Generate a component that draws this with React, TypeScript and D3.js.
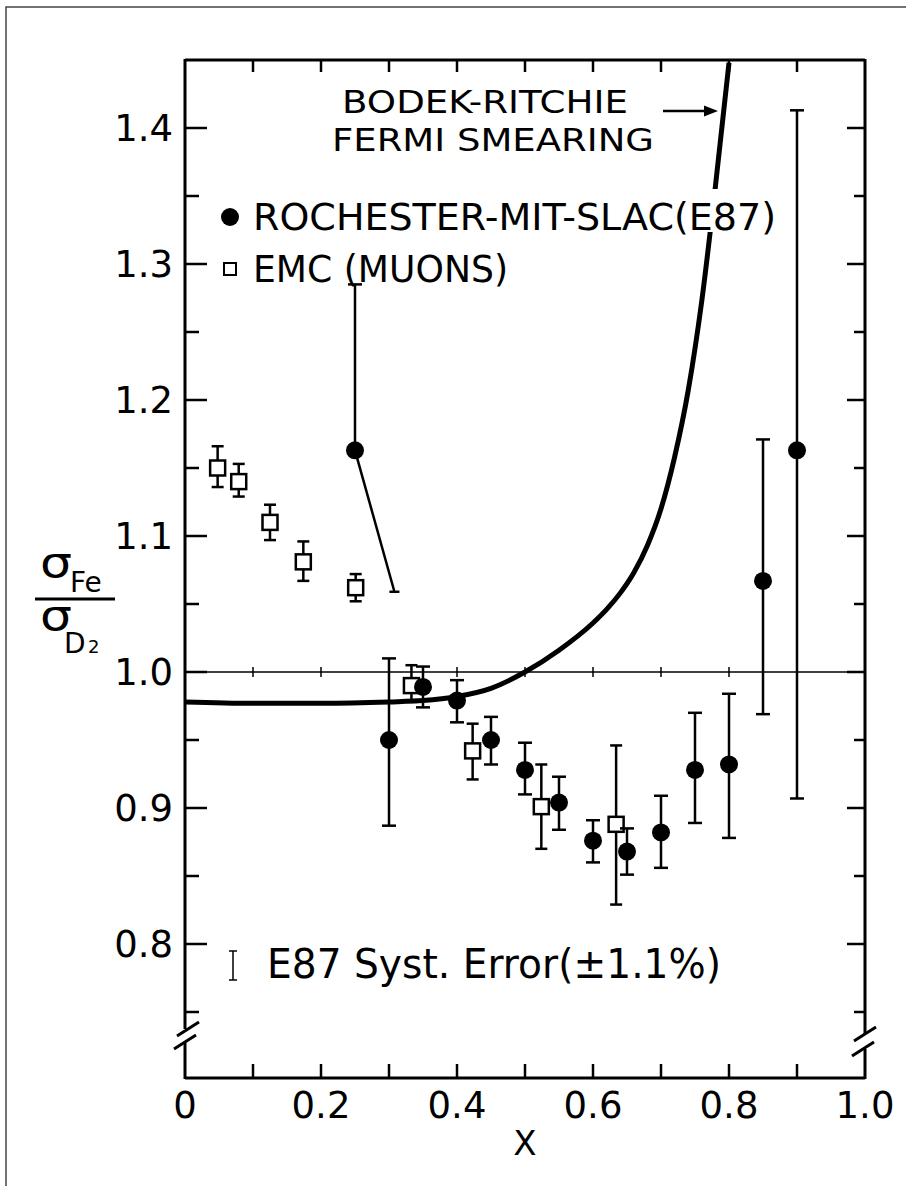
import React from 'react';
import * as d3 from 'd3';

// E87 Rochester-MIT-SLAC (closed circles)
const e87X = [0.30, 0.35, 0.40, 0.45, 0.50, 0.55, 0.60, 0.65, 0.70, 0.75, 0.80, 0.85, 0.90];
const e87Y = [0.950, 0.989, 0.979, 0.950, 0.928, 0.904, 0.876, 0.868, 0.882, 0.928, 0.932, 1.067, 1.163];
const e87Lo = [0.887, 0.974, 0.963, 0.932, 0.910, 0.884, 0.860, 0.851, 0.856, 0.889, 0.878, 0.969, 0.907];
const e87Hi = [1.010, 1.004, 0.994, 0.967, 0.948, 0.923, 0.891, 0.885, 0.909, 0.970, 0.984, 1.171, 1.413];

// the x=0.25 E87 point, whose lower bar is drawn slanted
const oddPoint = { x: 0.25, y: 1.163, hi: 1.285, endX: 0.308, endY: 1.059 };

// EMC muons (open squares)
const emcX = [0.048, 0.079, 0.125, 0.174, 0.251, 0.333, 0.423, 0.524, 0.634];
const emcY = [1.150, 1.140, 1.110, 1.081, 1.062, 0.990, 0.942, 0.901, 0.888];
const emcLo = [1.136, 1.129, 1.097, 1.067, 1.052, 0.978, 0.921, 0.870, 0.829];
const emcHi = [1.166, 1.153, 1.123, 1.096, 1.072, 1.005, 0.962, 0.932, 0.946];

// Bodek-Ritchie Fermi smearing curve
const curveX = [0.0, 0.1, 0.2, 0.3, 0.35, 0.40, 0.45, 0.50, 0.55, 0.60, 0.62, 0.64, 0.66, 0.68, 0.70, 0.72, 0.74, 0.76, 0.78, 0.80];
const curveY = [0.978, 0.977, 0.977, 0.978, 0.979, 0.982, 0.988, 1.000, 1.016, 1.036, 1.046, 1.058, 1.073, 1.093, 1.120, 1.158, 1.207, 1.273, 1.357, 1.448];

const yTicks = [0.8, 0.9, 1.0, 1.1, 1.2, 1.3, 1.4];
const yMinor = [0.75, 0.85, 0.95, 1.05, 1.15, 1.25, 1.35];
const xTicks = [0.1, 0.2, 0.3, 0.4, 0.5, 0.6, 0.7, 0.8, 0.9];
const xLabels = ['0', '0.2', '0.4', '0.6', '0.8', '1.0'];
const oneLineTicks = [0.1, 0.2, 0.3, 0.4, 0.5, 0.6, 0.7, 0.8];

const font = "'DejaVu Sans', sans-serif";

export default function App() {
  const x = d3.scaleLinear().domain([0, 1]).range([185, 865]);
  const y = d3.scaleLinear().domain([1.0, 1.4]).range([672, 128]);
  const top = y(1.45);
  const bottom = 1078;
  const left = x(0);
  const right = x(1);

  const line = d3.line<number>()
    .x((d, i) => x(curveX[i]))
    .y(d => y(d))
    .curve(d3.curveMonotoneX);

  const e87 = e87X.map((v, i) => ({ x: v, y: e87Y[i], lo: e87Lo[i], hi: e87Hi[i] }));
  const emc = emcX.map((v, i) => ({ x: v, y: emcY[i], lo: emcLo[i], hi: emcHi[i] }));

  const slash = (cx: number, cy: number) =>
    <line x1={cx - 11} y1={cy + 7} x2={cx + 11} y2={cy - 7} stroke="#000" strokeWidth={3} />;

  return (
    <div style={{ position: 'absolute', left: 0, top: 0 }}>
      <svg width={906} height={1186} style={{ display: 'block', background: '#fff' }}>
        <defs>
          <clipPath id="plot">
            <rect x={left} y={top} width={right - left} height={bottom - top} />
          </clipPath>
        </defs>
        {/* outer frame */}
        <rect x={6} y={7} width={920} height={1200} fill="none" stroke="#444" strokeWidth={1.5} />

        {/* frame of the plot */}
        <line x1={left} y1={top} x2={right} y2={top} stroke="#000" strokeWidth={3} />
        <line x1={left} y1={bottom} x2={right} y2={bottom} stroke="#000" strokeWidth={3} />
        <line x1={left} y1={top - 1} x2={left} y2={1029} stroke="#000" strokeWidth={3} />
        <line x1={left} y1={1043} x2={left} y2={bottom + 1} stroke="#000" strokeWidth={3} />
        <line x1={right} y1={top - 1} x2={right} y2={1034} stroke="#000" strokeWidth={3} />
        <line x1={right} y1={1049} x2={right} y2={bottom + 1} stroke="#000" strokeWidth={3} />
        {slash(left + 3, 1029)}
        {slash(left, 1042)}
        {slash(right, 1034)}
        {slash(right - 2, 1049)}

        {/* ticks */}
        {yTicks.map(t => (
          <g key={'yt' + t}>
            <line x1={left} x2={left + 22} y1={y(t)} y2={y(t)} stroke="#000" strokeWidth={2.5} />
            <line x1={right - 18} x2={right} y1={y(t)} y2={y(t)} stroke="#000" strokeWidth={2.5} />
            <text x={173} y={y(t) + 13} textAnchor="end" fontFamily={font} fontSize={37}>
              {t.toFixed(1)}
            </text>
          </g>
        ))}
        {yMinor.map(t => (
          <g key={'ym' + t}>
            <line x1={left} x2={left + 14} y1={y(t)} y2={y(t)} stroke="#000" strokeWidth={2.5} />
            <line x1={right - 11} x2={right} y1={y(t)} y2={y(t)} stroke="#000" strokeWidth={2.5} />
          </g>
        ))}
        {xTicks.map(t => (
          <g key={'xt' + t}>
            <line x1={x(t)} x2={x(t)} y1={top} y2={top + 12} stroke="#000" strokeWidth={2.5} />
            <line x1={x(t)} x2={x(t)} y1={bottom} y2={bottom - 14} stroke="#000" strokeWidth={2.5} />
          </g>
        ))}
        {xLabels.map(l => (
          <text key={'xl' + l} x={x(+l)} y={1118} textAnchor="middle" fontFamily={font} fontSize={37}>
            {l}
          </text>
        ))}
        <text x={x(0.5)} y={1155} textAnchor="middle" fontFamily={font} fontSize={34}>X</text>

        {/* y axis label */}
        <text x={40} y={577} fontFamily={font} fontSize={42} textLength={32} lengthAdjust="spacingAndGlyphs">σ</text>
        <text x={70} y={592} fontFamily={font} fontSize={28}>Fe</text>
        <line x1={35} x2={115} y1={599} y2={599} stroke="#000" strokeWidth={3} />
        <text x={40} y={630} fontFamily={font} fontSize={42} textLength={32} lengthAdjust="spacingAndGlyphs">σ</text>
        <text x={64} y={653} fontFamily={font} fontSize={28}>D</text>
        <text x={88} y={653} fontFamily={font} fontSize={18}>2</text>

        {/* ratio = 1 line */}
        <line x1={left} x2={right} y1={y(1)} y2={y(1)} stroke="#000" strokeWidth={1.5} />
        {oneLineTicks.map(t => (
          <line key={'ot' + t} x1={x(t)} x2={x(t)} y1={y(1) - 5} y2={y(1) + 5} stroke="#000" strokeWidth={1.5} />
        ))}

        {/* Bodek-Ritchie curve */}
        <g clipPath="url(#plot)">
          <path d={line(curveY) || ''} fill="none" stroke="#000" strokeWidth={5} />
        </g>
        <rect x={690} y={189} width={55} height={43} fill="#fff" />

        {/* EMC squares */}
        {emc.map((d, i) => (
          <g key={'emc' + i} stroke="#000" strokeWidth={2.5}>
            <line x1={x(d.x)} x2={x(d.x)} y1={y(d.lo)} y2={y(d.hi)} />
            <line x1={x(d.x) - 6} x2={x(d.x) + 6} y1={y(d.lo)} y2={y(d.lo)} />
            <line x1={x(d.x) - 6} x2={x(d.x) + 6} y1={y(d.hi)} y2={y(d.hi)} />
            <rect x={x(d.x) - 7.5} y={y(d.y) - 7.5} width={15} height={15} fill="#fff" />
          </g>
        ))}

        {/* E87 circles */}
        {e87.map((d, i) => (
          <g key={'e87' + i} stroke="#000" strokeWidth={2.5}>
            <line x1={x(d.x)} x2={x(d.x)} y1={y(d.lo)} y2={y(d.hi)} />
            <line x1={x(d.x) - 7} x2={x(d.x) + 7} y1={y(d.lo)} y2={y(d.lo)} />
            <line x1={x(d.x) - 7} x2={x(d.x) + 7} y1={y(d.hi)} y2={y(d.hi)} />
            <circle cx={x(d.x)} cy={y(d.y)} r={9} fill="#000" stroke="none" />
          </g>
        ))}
        <g stroke="#000" strokeWidth={2.5}>
          <line x1={x(oddPoint.x)} x2={x(oddPoint.x)} y1={y(oddPoint.y)} y2={y(oddPoint.hi)} />
          <line x1={x(oddPoint.x) - 7} x2={x(oddPoint.x) + 7} y1={y(oddPoint.hi)} y2={y(oddPoint.hi)} />
          <line x1={x(oddPoint.x)} x2={x(oddPoint.endX)} y1={y(oddPoint.y)} y2={y(oddPoint.endY)} />
          <line x1={x(oddPoint.endX) - 5} x2={x(oddPoint.endX) + 5} y1={y(oddPoint.endY)} y2={y(oddPoint.endY)} />
          <circle cx={x(oddPoint.x)} cy={y(oddPoint.y)} r={9} fill="#000" stroke="none" />
        </g>

        {/* annotations */}
        <text x={342} y={113} fontFamily={font} fontSize={32} textLength={286} lengthAdjust="spacingAndGlyphs">BODEK-RITCHIE</text>
        <text x={332} y={151} fontFamily={font} fontSize={32} textLength={322} lengthAdjust="spacingAndGlyphs">FERMI SMEARING</text>
        <line x1={663} x2={706} y1={111} y2={111} stroke="#000" strokeWidth={2.5} />
        <path d="M718,111 L704,105.5 L704,116.5 Z" fill="#000" />

        <circle cx={230} cy={217} r={9} fill="#000" />
        <text x={253} y={230} fontFamily={font} fontSize={37} textLength={523} lengthAdjust="spacingAndGlyphs">ROCHESTER-MIT-SLAC(E87)</text>
        <rect x={224} y={263} width={12} height={12} fill="#fff" stroke="#000" strokeWidth={2} />
        <text x={253} y={282} fontFamily={font} fontSize={37} textLength={255} lengthAdjust="spacingAndGlyphs">EMC (MUONS)</text>

        <g stroke="#000" strokeWidth={1.5}>
          <line x1={233} x2={233} y1={951} y2={980} />
          <line x1={229} x2={237} y1={951} y2={951} />
          <line x1={229} x2={237} y1={980} y2={980} />
        </g>
        <text x={267} y={978} fontFamily={font} fontSize={40} textLength={454} lengthAdjust="spacingAndGlyphs">E87 Syst. Error(±1.1%)</text>
      </svg>
    </div>
  );
}
